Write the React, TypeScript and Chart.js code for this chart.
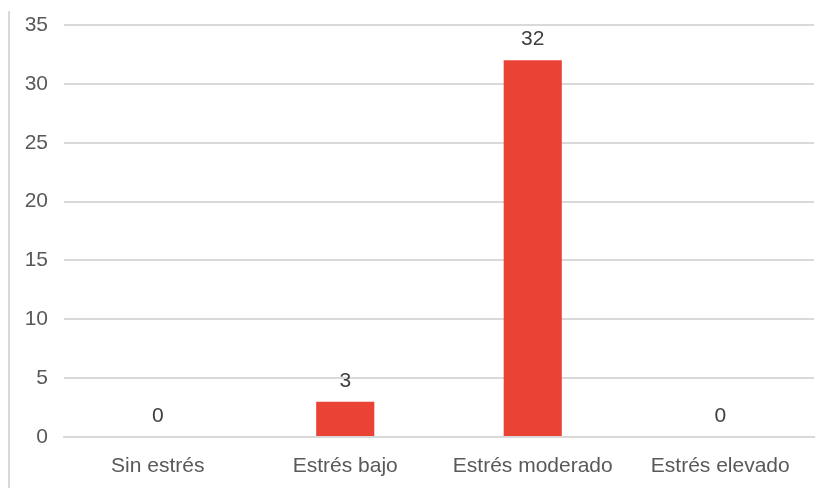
import React, { useEffect, useRef } from "react";
import { Chart, registerables } from "chart.js";

Chart.register(...registerables);

const categories = ["Sin estrés", "Estrés bajo", "Estrés moderado", "Estrés elevado"];
const counts = [0, 3, 32, 0];
const yTicks = [0, 5, 10, 15, 20, 25, 30, 35];

const BAR_COLOR = "#EA4335";
const GRID_COLOR = "#D9D9D9";
const TEXT_COLOR = "#595959";
const FONT_FAMILY = "'Liberation Sans', Arial, sans-serif";
const FONT_SIZE = 21;

// Draws the value above each bar.
const valueLabels = {
  id: "valueLabels",
  afterDatasetsDraw(chart: any) {
    const ctx = chart.ctx;
    const meta = chart.getDatasetMeta(0);
    ctx.save();
    ctx.font = `${FONT_SIZE}px ${FONT_FAMILY}`;
    ctx.fillStyle = "#404040";
    ctx.textAlign = "center";
    ctx.textBaseline = "alphabetic";
    meta.data.forEach((bar: any, i: number) => {
      ctx.fillText(String(counts[i]), bar.x, bar.y - 15);
    });
    ctx.restore();
  },
};

// Thin frame line along the left edge.
const leftRule = {
  id: "leftRule",
  beforeDraw(chart: any) {
    const ctx = chart.ctx;
    ctx.save();
    ctx.strokeStyle = GRID_COLOR;
    ctx.lineWidth = 2;
    ctx.beginPath();
    ctx.moveTo(9, 11);
    ctx.lineTo(9, chart.height);
    ctx.stroke();
    ctx.restore();
  },
};

export default function App() {
  const ref = useRef<HTMLCanvasElement>(null);

  useEffect(() => {
    document.body.style.margin = "0";
    const chart = new Chart(ref.current!, {
      type: "bar",
      data: {
        labels: categories,
        datasets: [
          {
            data: counts,
            backgroundColor: BAR_COLOR,
            barPercentage: 0.62,
            categoryPercentage: 0.5,
          },
        ],
      },
      options: {
        animation: false,
        responsive: false,
        maintainAspectRatio: false,
        layout: { padding: { top: 25, right: 12, left: 0, bottom: 0 } },
        plugins: { legend: { display: false }, tooltip: { enabled: false } },
        scales: {
          x: {
            grid: { display: false, drawTicks: false },
            border: { display: true, color: GRID_COLOR, width: 2 },
            ticks: {
              color: TEXT_COLOR,
              font: { family: FONT_FAMILY, size: FONT_SIZE },
              padding: 17,
              maxRotation: 0,
            },
            afterFit(scale: any) {
              scale.height = 51;
              scale.paddingLeft = 0;
              scale.paddingRight = 0;
            },
          },
          y: {
            min: 0,
            max: 35,
            afterBuildTicks(scale: any) {
              scale.ticks = yTicks.map((v) => ({ value: v }));
            },
            grid: { color: GRID_COLOR, lineWidth: 2, drawTicks: false },
            border: { display: false },
            ticks: {
              color: TEXT_COLOR,
              font: { family: FONT_FAMILY, size: FONT_SIZE },
              padding: 16,
            },
            afterFit(scale: any) {
              scale.width = 64;
              scale.paddingTop = 0;
              scale.paddingBottom = 0;
            },
          },
        },
      },
      plugins: [valueLabels, leftRule],
    });
    return () => chart.destroy();
  }, []);

  return (
    <div style={{ position: "absolute", left: 0, top: 0, width: 826, height: 488, background: "#fff" }}>
      <canvas ref={ref} width={826} height={488} style={{ display: "block" }} />
    </div>
  );
}
